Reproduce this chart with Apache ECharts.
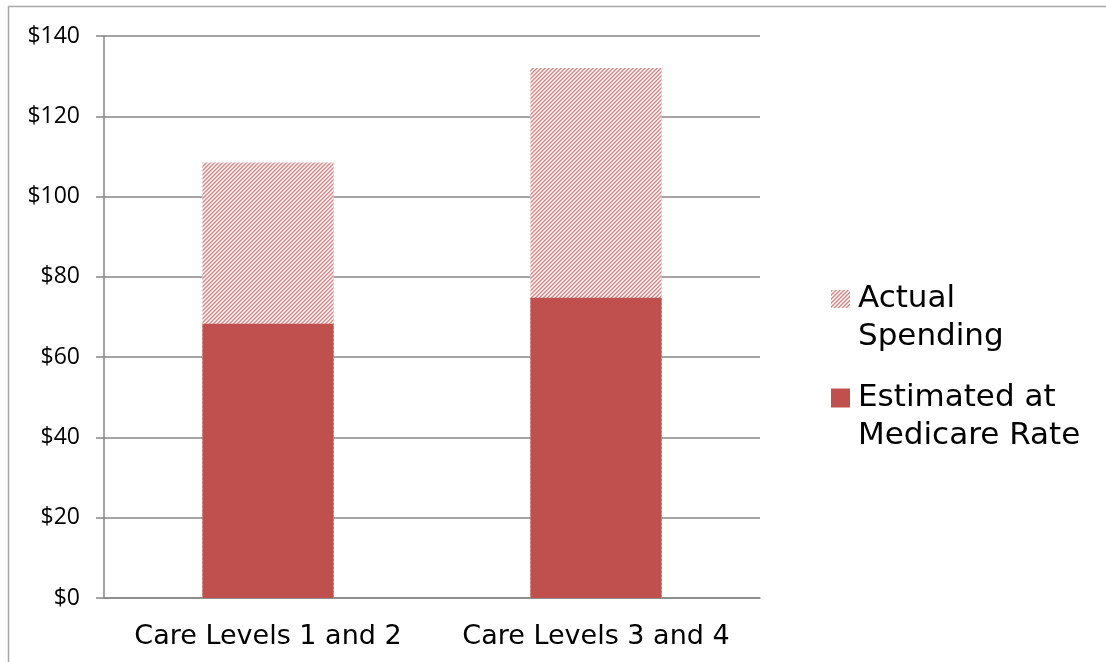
<!DOCTYPE html>
<html>
<head>
<meta charset="utf-8">
<script src="https://cdn.jsdelivr.net/npm/echarts@6/dist/echarts.min.js"></script>
<style>
  html, body { margin: 0; padding: 0; background: #fff; }
  #chart { width: 1106px; height: 662px; }
</style>
</head>
<body>
<div id="chart"></div>
<script>
const categories = ['Care Levels 1 and 2', 'Care Levels 3 and 4']
const actualSpending = [108.5, 132]
const medicareRate = [68.3, 74.8]
const yTicks = [0, 20, 40, 60, 80, 100, 120, 140]

// diagonal "/" hatch tile for the "Actual Spending" bars
const makeHatch = () => {
  const size = 4
  const c = document.createElement('canvas')
  c.width = size
  c.height = size
  const ctx = c.getContext('2d')
  const img = ctx.createImageData(size, size)
  for (let y = 0; y < size; y++) {
    for (let x = 0; x < size; x++) {
      const d = (x + y) % size
      const a = d === 0 ? 0.8 : (d === 1 ? 0.5 : (d === 3 ? 0.25 : 0))
      const i = (y * size + x) * 4
      img.data[i] = Math.round(255 - a * (255 - 210))
      img.data[i + 1] = Math.round(255 - a * (255 - 95))
      img.data[i + 2] = Math.round(255 - a * (255 - 95))
      img.data[i + 3] = 255
    }
  }
  ctx.putImageData(img, 0, 0)
  return c
}

const hatch = { image: makeHatch(), repeat: 'repeat' }
const grey = '#868686'
const legendText = { fontFamily: 'DejaVu Sans', fontSize: 31, lineHeight: 38, color: '#000', padding: [0, 0, 0, 3] }

const chart = echarts.init(document.getElementById('chart'))
chart.setOption({
  animation: false,
  graphic: [{
    type: 'rect',
    shape: { x: 8.5, y: 6.5, width: 1200, height: 1000 },
    style: { fill: 'none', stroke: '#a6a6a6', lineWidth: 1.5 },
    silent: true
  }],
  grid: { left: 104, right: 346, top: 36, bottom: 64 },
  legend: [
    {
      data: ['Actual Spending'],
      orient: 'vertical',
      left: 826,
      top: 237,
      icon: 'rect',
      itemWidth: 19,
      itemHeight: 18,
      formatter: () => '\nActual\nSpending',
      textStyle: legendText
    },
    {
      data: ['Estimated at Medicare Rate'],
      orient: 'vertical',
      left: 826,
      top: 336,
      icon: 'rect',
      itemWidth: 19,
      itemHeight: 19,
      formatter: () => '\nEstimated at\nMedicare Rate',
      textStyle: legendText
    }
  ],
  xAxis: {
    type: 'category',
    data: categories,
    axisLine: { lineStyle: { color: grey, width: 1.5 } },
    axisTick: { length: 8, lineStyle: { color: grey, width: 1.5 } },
    axisLabel: { interval: 0, fontFamily: 'DejaVu Sans', fontSize: 27, color: '#000', margin: 25 }
  },
  yAxis: {
    type: 'value',
    min: yTicks[0],
    max: yTicks[yTicks.length - 1],
    interval: 20,
    axisLine: { show: true, lineStyle: { color: grey, width: 1.5 } },
    axisTick: { show: true, length: 8, lineStyle: { color: grey, width: 1.5 } },
    splitLine: { lineStyle: { color: grey, width: 1.5 } },
    axisLabel: {
      fontFamily: 'Open Sans',
      fontSize: 23,
      color: '#000',
      margin: 24,
      formatter: v => '$' + v
    }
  },
  series: [
    {
      name: 'Actual Spending',
      type: 'bar',
      data: actualSpending,
      barWidth: '40%',
      barGap: '-100%',
      itemStyle: { color: hatch }
    },
    {
      name: 'Estimated at Medicare Rate',
      type: 'bar',
      data: medicareRate,
      barWidth: '40%',
      itemStyle: { color: '#c0504d' }
    }
  ]
})
</script>
</body>
</html>
